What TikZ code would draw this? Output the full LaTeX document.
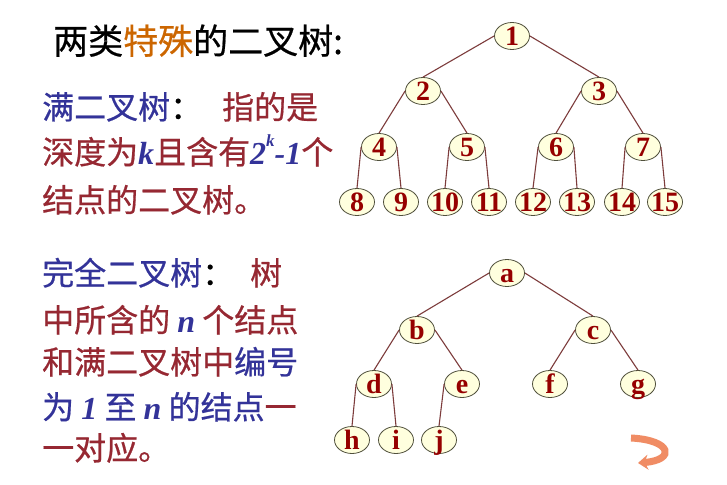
\documentclass[tikz,border=0pt]{standalone}
\usepackage{fontspec}
\usepackage{xcolor}
\usepackage{tikz}
\usetikzlibrary{arrows.meta,positioning,shapes.geometric}
\newfontfamily\cjk[FakeBold=0.6]{Noto Sans CJK SC}
\newfontfamily\lat{Liberation Serif}
\definecolor{textblue}{RGB}{51,51,153}
\definecolor{textred}{RGB}{150,40,50}
\definecolor{textorange}{RGB}{204,102,0}
\definecolor{labelred}{RGB}{150,0,0}
\definecolor{linkbrown}{RGB}{125,60,60}
\definecolor{nodecream}{RGB}{255,255,222}
\definecolor{nodeline}{RGB}{80,80,60}
\definecolor{backsalmon}{RGB}{240,140,100}
\newcommand{\var}[1]{{\lat\bfseries\itshape\color{textblue}#1}}
\newcommand{\nlbl}[1]{\makebox[0pt]{\vphantom{0}\smash{#1}}}

\begin{document}
\begin{tikzpicture}[
  x=1pt, y=-1pt,
  tnode/.style={ellipse, draw=nodeline, fill=nodecream, line width=0.8pt, minimum width=35pt, minimum height=27pt, inner sep=0pt, text=labelred, font=\lat\bfseries\fontsize{28}{28}\selectfont},
  link/.style={draw=linkbrown, line width=1.1pt},
  txtline/.style={anchor=base west, inner sep=0pt, font=\cjk\fontsize{32}{32}\selectfont}
]
\fill[white] (0,0) rectangle (727,484);
\useasboundingbox (0,0) rectangle (727,484);

% left hand texts
\node[txtline, font=\cjk\fontsize{35}{35}\selectfont] (title) at (53,54) {两类{\color{textorange}特殊}的二叉树:};

\node[txtline] (fa) at (42,119) {{\color{textblue}满二叉树}：\hspace{20pt}{\color{textred}指的是}};
\node[txtline] (fb) at (42,164) {\color{textred}深度为\var{k}且含有\var{2}\raisebox{0.55em}{\fontsize{17}{17}\selectfont\var{k}}\var{-1}个};
\node[txtline] (fc) at (42,212) {\color{textred}结点的二叉树。};

\node[txtline] (ca) at (42,285) {{\color{textblue}完全二叉树}：\hspace{16pt}{\color{textred}树}};
\node[txtline] (cb) at (42,332) {\color{textred}中所含的 \var{n} 个结点};
\node[txtline] (cc) at (42,374) {{\color{textred}和满二叉树中}{\color{textblue}编号}};
\node[txtline] (cd) at (42,419) {{\color{textblue}为 \var{1} 至 \var{n} 的结点}{\color{textred}一}};
\node[txtline] (ce) at (42,460) {\color{textred}一对应。};

% full binary tree
\node[tnode] (n1) at (512,36) {\nlbl{1}};
\node[tnode] (n2) at (423,91) {\nlbl{2}};
\node[tnode] (n3) at (599,91) {\nlbl{3}};
\node[tnode] (n4) at (379,147) {\nlbl{4}};
\node[tnode] (n5) at (467,147) {\nlbl{5}};
\node[tnode] (n6) at (556,147) {\nlbl{6}};
\node[tnode] (n7) at (643,147) {\nlbl{7}};
\node[tnode] (n8) at (357,202) {\nlbl{8}};
\node[tnode] (n9) at (401,202) {\nlbl{9}};
\node[tnode] (n10) at (445,202) {\nlbl{10}};
\node[tnode] (n11) at (489,202) {\nlbl{11}};
\node[tnode] (n12) at (533,202) {\nlbl{12}};
\node[tnode] (n13) at (577,202) {\nlbl{13}};
\node[tnode] (n14) at (622,202) {\nlbl{14}};
\node[tnode] (n15) at (665,202) {\nlbl{15}};

\foreach \p/\l/\r in {n1/n2/n3, n2/n4/n5, n3/n6/n7, n4/n8/n9, n5/n10/n11, n6/n12/n13, n7/n14/n15} {
  \draw[link] (\p.west) -- (\l.north);
  \draw[link] (\p.east) -- (\r.north);
}

% complete binary tree
\node[tnode] (ta) at (507,273) {\nlbl{a}};
\node[tnode] (tb) at (417,330) {\nlbl{b}};
\node[tnode] (tc) at (593,330) {\nlbl{c}};
\node[tnode] (td) at (374,384) {\nlbl{d}};
\node[tnode] (te) at (462,384) {\nlbl{e}};
\node[tnode] (tf) at (550,384) {\nlbl{f}};
\node[tnode] (tg) at (638,384) {\nlbl{g}};
\node[tnode] (th) at (352,440) {\nlbl{h}};
\node[tnode] (ti) at (396,440) {\nlbl{i}};
\node[tnode] (tj) at (439,440) {\nlbl{j}};

\foreach \p/\l/\r in {ta/tb/tc, tb/td/te, tc/tf/tg, td/th/ti} {
  \draw[link] (\p.west) -- (\l.north);
  \draw[link] (\p.east) -- (\r.north);
}
\draw[link] (te.west) -- (tj.north);

% return button
\draw[backsalmon, line width=7pt, -{Stealth[length=10pt,width=15pt]}]
  (631,438) .. controls (672,440) and (676,460) .. (638,463);
\end{tikzpicture}
\end{document}
